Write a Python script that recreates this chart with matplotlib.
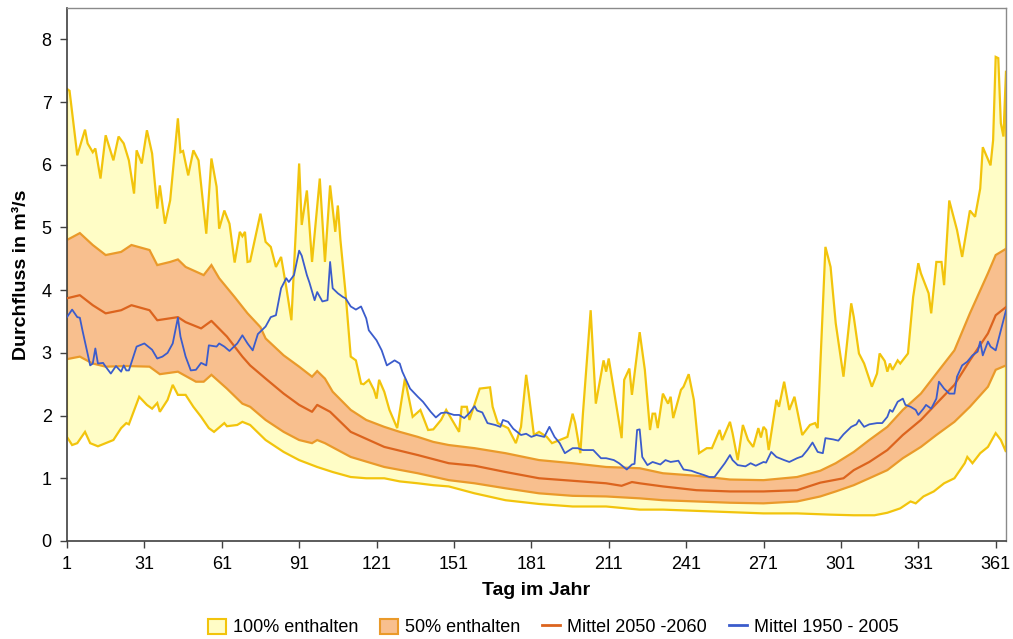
import numpy as np
import matplotlib
matplotlib.use("Agg")
import matplotlib.pyplot as plt
from matplotlib.patches import Patch
from matplotlib.lines import Line2D

plt.rcParams['font.family'] = ['Liberation Sans', 'DejaVu Sans']

# --- daily discharge envelope, 100% range (min / max) ---
max_days = [1, 2, 5, 8, 9, 11, 12, 14, 16, 19, 21, 23, 25, 27, 28, 30, 32, 34, 36, 37,
            39, 41, 44, 45, 46, 48, 50, 52, 55, 57, 59, 60, 62, 64, 66, 68, 69, 70, 71, 72,
            76, 78, 80, 82, 84, 86, 88, 91, 92, 94, 96, 99, 101, 103, 105, 106, 107, 109, 111, 113,
            115, 116, 118, 120, 121, 122, 124, 126, 129, 132, 135, 138, 141, 143, 146, 148, 151, 153, 154, 156,
            157, 161, 165, 166, 168, 172, 175, 177, 179, 180, 182, 184, 187, 189, 192, 195, 197, 198, 200, 201,
            204, 206, 209, 210, 211, 216, 217, 219, 220, 223, 225, 227, 228, 229, 230, 232, 234, 235, 236, 239,
            240, 242, 244, 246, 249, 251, 254, 255, 258, 259, 261, 263, 265, 267, 269, 270, 271, 272, 273, 276,
            277, 279, 281, 283, 286, 289, 291, 292, 293, 295, 297, 299, 302, 305, 306, 308, 310, 313, 315, 316,
            318, 319, 320, 321, 323, 324, 327, 329, 331, 332, 335, 336, 338, 340, 341, 343, 346, 348, 351, 353,
            355, 356, 359, 360, 361, 362, 363, 364, 365]
max_vals = [7.21, 7.18, 6.15, 6.56, 6.34, 6.20, 6.26, 5.78, 6.47, 6.07, 6.45, 6.34, 6.07, 5.54, 6.23, 6.02, 6.55, 6.18, 5.30, 5.67,
            5.06, 5.43, 6.74, 6.20, 6.22, 5.83, 6.23, 6.07, 4.90, 6.10, 5.65, 4.98, 5.27, 5.06, 4.44, 4.93, 4.86, 4.93, 4.45, 4.46,
            5.22, 4.77, 4.69, 4.37, 4.53, 4.05, 3.52, 6.02, 5.04, 5.59, 4.45, 5.78, 4.45, 5.67, 4.93, 5.35, 4.80, 3.95, 2.94, 2.88,
            2.51, 2.50, 2.57, 2.41, 2.27, 2.57, 2.38, 2.09, 1.80, 2.59, 1.98, 2.09, 1.77, 1.78, 1.93, 2.09, 1.88, 1.74, 2.14, 2.14,
            1.93, 2.43, 2.45, 2.14, 1.88, 1.80, 1.56, 1.82, 2.65, 2.35, 1.69, 1.74, 1.66, 1.56, 1.61, 1.66, 2.03, 1.88, 1.40, 2.03,
            3.68, 2.19, 2.88, 2.70, 2.91, 1.64, 2.57, 2.75, 2.33, 3.33, 2.73, 1.77, 2.03, 2.03, 1.80, 2.35, 2.19, 2.30, 1.96, 2.41,
            2.46, 2.66, 2.25, 1.40, 1.48, 1.48, 1.77, 1.61, 1.90, 1.72, 1.29, 1.85, 1.61, 1.50, 1.80, 1.65, 1.82, 1.77, 1.45, 2.25,
            2.14, 2.54, 2.09, 2.30, 1.69, 1.85, 1.88, 1.80, 2.78, 4.69, 4.37, 3.47, 2.62, 3.79, 3.57, 2.99, 2.83, 2.46, 2.67, 2.99,
            2.87, 2.70, 2.83, 2.73, 2.88, 2.83, 2.99, 3.89, 4.43, 4.27, 3.95, 3.63, 4.45, 4.45, 4.08, 5.43, 4.96, 4.53, 5.27, 5.17,
            5.62, 6.28, 5.99, 6.39, 7.72, 7.70, 6.66, 6.45, 7.50]

min_days = [1, 3, 5, 8, 10, 13, 16, 19, 22, 24, 25, 29, 32, 34, 36, 37, 40, 42, 44, 47,
            50, 53, 56, 58, 62, 63, 67, 69, 72, 76, 78, 85, 91, 98, 104, 111, 117, 124, 130, 137,
            143, 149, 159, 171, 184, 197, 210, 223, 232, 245, 258, 271, 284, 297, 306, 314, 319, 324, 328, 330,
            333, 337, 341, 345, 349, 350, 352, 355, 358, 361, 363, 365]
min_vals = [1.66, 1.53, 1.56, 1.74, 1.56, 1.51, 1.56, 1.61, 1.80, 1.88, 1.86, 2.30, 2.17, 2.11, 2.20, 2.06, 2.25, 2.49, 2.33, 2.33,
            2.14, 1.98, 1.80, 1.74, 1.88, 1.83, 1.85, 1.90, 1.85, 1.69, 1.61, 1.42, 1.29, 1.18, 1.10, 1.02, 1.00, 1.00, 0.95, 0.92,
            0.89, 0.87, 0.76, 0.65, 0.59, 0.55, 0.55, 0.50, 0.50, 0.48, 0.46, 0.44, 0.44, 0.42, 0.41, 0.41, 0.45, 0.52, 0.63, 0.60,
            0.71, 0.79, 0.92, 1.00, 1.24, 1.34, 1.24, 1.40, 1.50, 1.72, 1.61, 1.42]

# --- 50% range (25% / 75% quantiles) ---
q75_days = [1, 6, 11, 16, 22, 26, 33, 36, 41, 44, 47, 54, 57, 60, 66, 71, 76, 78, 85, 91,
            96, 98, 101, 104, 111, 117, 124, 130, 137, 143, 149, 159, 171, 184, 197, 210, 223, 232, 245, 258,
            271, 284, 293, 299, 306, 312, 319, 325, 332, 338, 345, 351, 358, 361, 365]
q75_vals = [4.80, 4.91, 4.72, 4.56, 4.61, 4.72, 4.64, 4.40, 4.45, 4.49, 4.37, 4.24, 4.40, 4.19, 3.89, 3.63, 3.41, 3.23, 2.96, 2.78,
            2.62, 2.71, 2.59, 2.38, 2.09, 1.93, 1.82, 1.74, 1.66, 1.58, 1.53, 1.48, 1.40, 1.29, 1.24, 1.18, 1.16, 1.08, 1.04, 0.98,
            0.97, 1.02, 1.12, 1.24, 1.42, 1.61, 1.82, 2.09, 2.35, 2.67, 3.04, 3.63, 4.27, 4.56, 4.66]

q25_days = [1, 6, 11, 16, 24, 33, 37, 44, 51, 54, 57, 63, 69, 72, 78, 85, 91, 96, 98, 101,
            111, 124, 137, 149, 159, 171, 184, 197, 210, 223, 232, 245, 258, 271, 284, 293, 299, 306, 312, 319,
            325, 332, 338, 345, 351, 358, 361, 365]
q25_vals = [2.90, 2.94, 2.83, 2.78, 2.79, 2.78, 2.66, 2.70, 2.54, 2.54, 2.65, 2.43, 2.19, 2.14, 1.93, 1.74, 1.61, 1.56, 1.61, 1.56,
            1.34, 1.18, 1.08, 0.97, 0.92, 0.84, 0.76, 0.72, 0.71, 0.68, 0.65, 0.63, 0.61, 0.60, 0.63, 0.71, 0.79, 0.89, 1.00, 1.13,
            1.32, 1.50, 1.69, 1.90, 2.14, 2.46, 2.73, 2.80]

# --- mean 2050-2060 ---
mean_days = [1, 6, 11, 16, 22, 26, 33, 36, 44, 47, 53, 57, 63, 69, 72, 78, 85, 91, 96, 98,
             103, 111, 124, 137, 149, 159, 171, 184, 197, 210, 216, 220, 223, 232, 245, 258, 271, 284, 293, 302,
             306, 312, 319, 325, 332, 338, 345, 351, 358, 361, 365]
mean_vals = [3.87, 3.92, 3.76, 3.63, 3.68, 3.76, 3.68, 3.52, 3.57, 3.49, 3.39, 3.51, 3.26, 2.94, 2.80, 2.59, 2.35, 2.17, 2.06, 2.17,
             2.06, 1.74, 1.50, 1.37, 1.24, 1.20, 1.10, 1.00, 0.96, 0.92, 0.88, 0.94, 0.92, 0.87, 0.81, 0.79, 0.79, 0.81, 0.93, 1.00,
             1.13, 1.26, 1.45, 1.69, 1.93, 2.19, 2.49, 2.88, 3.31, 3.60, 3.73]

# --- mean 1950-2005 ---
obs_days = [1, 3, 5, 6, 7, 9, 10, 11, 12, 13, 15, 16, 18, 20, 22, 23, 24, 25, 28, 31,
            34, 36, 38, 40, 42, 44, 45, 47, 49, 51, 53, 55, 56, 59, 60, 62, 64, 67, 69, 71,
            73, 75, 78, 80, 82, 84, 86, 87, 89, 91, 92, 94, 95, 97, 98, 100, 102, 103, 104, 106,
            108, 109, 111, 113, 115, 117, 118, 121, 123, 125, 128, 130, 131, 134, 137, 139, 142, 144, 146, 148,
            151, 153, 155, 157, 159, 160, 162, 164, 167, 169, 170, 172, 174, 177, 179, 181, 183, 186, 188, 190,
            192, 194, 197, 199, 201, 205, 208, 210, 213, 215, 218, 220, 221, 222, 223, 224, 226, 228, 231, 233,
            235, 238, 240, 243, 245, 248, 250, 252, 254, 256, 258, 259, 261, 264, 266, 268, 271, 272, 274, 276,
            279, 281, 284, 286, 288, 290, 292, 294, 295, 298, 300, 302, 305, 307, 308, 310, 312, 315, 317, 319,
            320, 321, 323, 325, 326, 328, 330, 331, 333, 334, 336, 338, 339, 341, 343, 345, 346, 348, 350, 352,
            354, 355, 356, 358, 359, 361, 363, 365]
obs_vals = [3.57, 3.69, 3.57, 3.56, 3.36, 2.99, 2.80, 2.83, 3.07, 2.83, 2.84, 2.78, 2.67, 2.79, 2.70, 2.80, 2.72, 2.72, 3.10, 3.15,
            3.05, 2.91, 2.94, 3.00, 3.15, 3.56, 3.26, 2.94, 2.72, 2.73, 2.84, 2.80, 3.12, 3.10, 3.15, 3.10, 3.03, 3.15, 3.28, 3.15,
            3.04, 3.30, 3.42, 3.57, 3.60, 4.03, 4.19, 4.13, 4.24, 4.63, 4.55, 4.24, 4.12, 3.84, 3.97, 3.82, 3.84, 4.45, 4.03, 3.95,
            3.89, 3.87, 3.74, 3.69, 3.74, 3.55, 3.36, 3.20, 3.04, 2.80, 2.88, 2.83, 2.70, 2.43, 2.30, 2.22, 2.06, 1.97, 2.04, 2.05,
            2.01, 2.01, 1.96, 2.04, 2.15, 2.08, 2.05, 1.88, 1.85, 1.82, 1.93, 1.90, 1.79, 1.69, 1.71, 1.66, 1.69, 1.66, 1.82, 1.66,
            1.56, 1.40, 1.48, 1.48, 1.45, 1.45, 1.32, 1.32, 1.29, 1.24, 1.14, 1.22, 1.23, 1.77, 1.78, 1.34, 1.21, 1.26, 1.22, 1.29,
            1.26, 1.28, 1.14, 1.12, 1.09, 1.05, 1.02, 1.02, 1.13, 1.24, 1.37, 1.29, 1.21, 1.19, 1.24, 1.20, 1.26, 1.25, 1.42, 1.34,
            1.29, 1.26, 1.32, 1.35, 1.45, 1.57, 1.42, 1.40, 1.64, 1.62, 1.60, 1.70, 1.82, 1.86, 1.93, 1.82, 1.86, 1.88, 1.88, 1.98,
            2.09, 2.06, 2.22, 2.27, 2.17, 2.14, 2.09, 2.01, 2.11, 2.17, 2.11, 2.27, 2.54, 2.43, 2.35, 2.35, 2.62, 2.80, 2.86, 2.96,
            3.02, 3.18, 2.96, 3.18, 3.10, 3.04, 3.36, 3.68]

x_ticks = [1, 31, 61, 91, 121, 151, 181, 211, 241, 271, 301, 331, 361]
y_ticks = [0, 1, 2, 3, 4, 5, 6, 7, 8]
labels = ["100% enthalten", "50% enthalten", "Mittel 2050 -2060", "Mittel 1950 - 2005"]

# colours
YEL_FILL = "#FFFDC6"
YEL_EDGE = "#F2C40C"
ORA_FILL = "#F8BF8E"
ORA_EDGE = "#EA9A2A"
MEAN_COL = "#DC641E"
OBS_COL = "#3B5CCC"

fig = plt.figure(figsize=(10.13, 6.39), dpi=100)
ax = fig.add_axes([0.0661, 0.1534, 0.9270, 0.8341])

# 100% band as a closed polygon: max forward, min backward
ax.fill(np.concatenate([max_days, min_days[::-1]]),
        np.concatenate([max_vals, min_vals[::-1]]),
        facecolor=YEL_FILL, edgecolor=YEL_EDGE, linewidth=1.6, zorder=1)

# 50% band
ax.fill(np.concatenate([q75_days, q25_days[::-1]]),
        np.concatenate([q75_vals, q25_vals[::-1]]),
        facecolor=ORA_FILL, edgecolor=ORA_EDGE, linewidth=1.6, zorder=2)

ax.plot(mean_days, mean_vals, color=MEAN_COL, linewidth=1.6, zorder=3)
ax.plot(obs_days, obs_vals, color=OBS_COL, linewidth=1.3, zorder=4)

ax.set_xlim(1, 365)
ax.set_ylim(0, 8.5)
ax.set_xticks(x_ticks)
ax.set_yticks(y_ticks)
ax.tick_params(axis='both', direction='out', length=5, width=1, colors='#404040',
               labelsize=13, labelcolor='black', pad=6)

for side in ('left', 'bottom'):
    ax.spines[side].set_color('#404040')
    ax.spines[side].set_linewidth(1.2)
for side in ('top', 'right'):
    ax.spines[side].set_color('#8a8a8a')
    ax.spines[side].set_linewidth(1.0)

ax.set_xlabel("Tag im Jahr", fontsize=14, fontweight='bold', labelpad=6)
ax.set_ylabel("Durchfluss in m³/s", fontsize=14, fontweight='bold', labelpad=8)

handles = [
    Patch(facecolor=YEL_FILL, edgecolor=YEL_EDGE, linewidth=1.5),
    Patch(facecolor=ORA_FILL, edgecolor=ORA_EDGE, linewidth=1.5),
    Line2D([], [], color=MEAN_COL, linewidth=2),
    Line2D([], [], color=OBS_COL, linewidth=2),
]
fig.legend(handles, labels, loc='center', bbox_to_anchor=(0.546, 0.018), ncol=4,
           frameon=False, fontsize=13, handlelength=1.0, handleheight=0.9,
           handletextpad=0.4, columnspacing=1.2, borderpad=0.1)

fig.savefig("out.png", dpi=100)
